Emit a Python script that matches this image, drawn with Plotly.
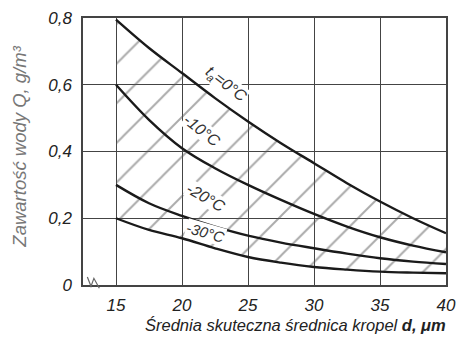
import plotly.graph_objects as go

# Effective droplet diameter, µm
diameter = [15, 17.5, 20, 22.5, 25, 27.5, 30, 32.5, 35, 37.5, 40]

# Liquid water content Q, g/m3, for each air temperature
q_t0 = [0.795, 0.71, 0.635, 0.56, 0.49, 0.425, 0.365, 0.305, 0.25, 0.2, 0.155]
q_t10 = [0.60, 0.495, 0.41, 0.35, 0.30, 0.255, 0.213, 0.175, 0.143, 0.118, 0.098]
q_t20 = [0.30, 0.245, 0.207, 0.175, 0.148, 0.127, 0.11, 0.094, 0.08, 0.07, 0.063]
q_t30 = [0.20, 0.165, 0.14, 0.11, 0.084, 0.067, 0.054, 0.046, 0.04, 0.037, 0.035]

curve_names = ["t<sub>a</sub>=0°C", "-10°C", "-20°C", "-30°C"]

x_tick_vals = [15, 20, 25, 30, 35, 40]
y_tick_vals = [0, 0.2, 0.4, 0.6, 0.8]
y_tick_text = ["0", "0,2", "0,4", "0,6", "0,8"]

FONT = "Liberation Sans"
INK = "#1a1a1a"
GRID = "#444444"

fig = go.Figure()

curve_line = dict(color=INK, width=2.4, shape="spline", smoothing=1.0)

# lower bound of the hatched band
fig.add_trace(go.Scatter(x=diameter, y=q_t30, mode="lines", line=curve_line,
                         hoverinfo="skip", showlegend=False))
# upper bound, hatched down to the lower bound
fig.add_trace(go.Scatter(
    x=diameter, y=q_t0, mode="lines", line=curve_line,
    fill="tonexty", fillcolor="rgba(0,0,0,0)",
    fillpattern=dict(shape="/", size=28, solidity=0.07,
                     fgcolor="#555555", bgcolor="rgba(0,0,0,0)"),
    hoverinfo="skip", showlegend=False))
fig.add_trace(go.Scatter(x=diameter, y=q_t10, mode="lines", line=curve_line,
                         hoverinfo="skip", showlegend=False))
fig.add_trace(go.Scatter(x=diameter, y=q_t20, mode="lines", line=curve_line,
                         hoverinfo="skip", showlegend=False))

# curve labels written along the curves
label_pos = [(23.3, 0.600, 38), (21.5, 0.462, 38), (21.8, 0.262, 30), (21.8, 0.156, 16)]
label_size = [16, 16, 16, 15]
for name, (lx, ly, ang), fs in zip(curve_names, label_pos, label_size):
    fig.add_annotation(x=lx, y=ly, xref="x", yref="y", text=name, showarrow=False,
                       textangle=ang, bgcolor="white", borderpad=0,
                       font=dict(family=FONT, size=fs, color="#333", style="italic"))

# axis titles
fig.add_annotation(x=0.585, y=-0.15, xref="paper", yref="paper",
                   text="Średnia skuteczna średnica kropel <b>d, μm</b>",
                   showarrow=False, xanchor="center", yanchor="middle",
                   font=dict(family=FONT, size=16.5, color="#222", style="italic"))
fig.add_annotation(x=-0.175, y=0.52, xref="paper", yref="paper",
                   text="Zawartość wody Q, g/m³", textangle=-90,
                   showarrow=False, xanchor="center", yanchor="middle",
                   font=dict(family=FONT, size=18.5, color="#777", style="italic"))

# small axis-break mark at the origin corner
fig.add_shape(type="path", xref="paper", yref="paper",
              path="M 0.012 0.03 L 0.022 -0.005 L 0.03 0.025 L 0.045 -0.012",
              line=dict(color="#666", width=1.2))

fig.update_xaxes(range=[12.5, 40], tickvals=x_tick_vals,
                 ticktext=[str(v) for v in x_tick_vals],
                 showgrid=True, gridcolor=GRID, gridwidth=1.3,
                 showline=True, linecolor=GRID, linewidth=1.5, mirror=True,
                 ticks="", zeroline=False, ticklabelstandoff=4,
                 tickfont=dict(family=FONT, size=17, color="#222", style="italic"))
fig.update_yaxes(range=[0, 0.8], tickvals=y_tick_vals, ticktext=y_tick_text,
                 showgrid=True, gridcolor=GRID, gridwidth=1.3,
                 showline=True, linecolor=GRID, linewidth=1.5, mirror=True,
                 ticks="", zeroline=False, ticklabelstandoff=6,
                 tickfont=dict(family=FONT, size=17, color="#222", style="italic"))

fig.update_layout(width=465, height=342,
                  margin=dict(l=83, r=9, t=16, b=57),
                  paper_bgcolor="white", plot_bgcolor="white")

fig.write_html("out.html")
